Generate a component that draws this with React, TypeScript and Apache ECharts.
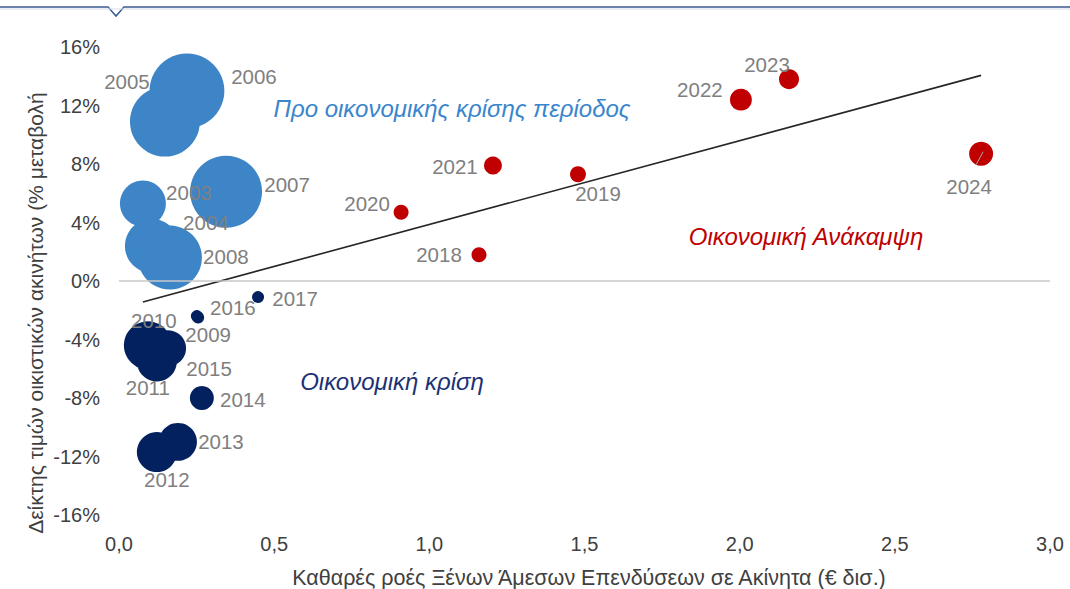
import React, { useEffect, useRef } from "react";
import * as echarts from "echarts";

// ---- Data ----
const preYears = ["2003", "2004", "2005", "2006", "2007", "2008"];
const preX = [0.077, 0.106, 0.148, 0.219, 0.345, 0.164];
const preY = [5.3, 2.4, 10.9, 13.0, 6.1, 1.6];
const preSize = [132, 182, 306, 350, 324, 256];

const crisisYears = ["2009", "2010", "2011", "2012", "2013", "2014", "2015", "2016", "2017"];
const crisisX = [0.255, 0.093, 0.122, 0.122, 0.19, 0.267, 0.158, 0.251, 0.448];
const crisisY = [-2.5, -4.4, -5.5, -11.7, -11.0, -8.0, -4.6, -2.4, -1.1];
const crisisSize = [9, 144, 100, 100, 90, 36, 81, 9, 9];

const recYears = ["2018", "2019", "2020", "2021", "2022", "2023", "2024"];
const recX = [1.16, 1.479, 0.909, 1.205, 2.004, 2.159, 2.778];
const recY = [1.8, 7.3, 4.7, 7.9, 12.4, 13.8, 8.7];
const recSize = [14, 16, 14, 20, 30, 25, 36];

const trendX = [0.077, 2.778];
const trendY = [-1.43, 14.06];

const xTicks = { min: 0, max: 3, interval: 0.5 };
const yTicks = { min: -16, max: 16, interval: 4 };

// ---- Layout of labels (pixel offsets from bubble centre) ----
const labelOffsets: Record<string, [number, number]> = {
  "2003": [46, -11],
  "2004": [54, -23],
  "2005": [-38, -40],
  "2006": [67, -14],
  "2007": [61, -7],
  "2008": [56, -1],
  "2009": [10, 17],
  "2010": [6, -25],
  "2011": [-9, 26],
  "2012": [10, 27],
  "2013": [43, 0],
  "2014": [41, 1],
  "2015": [41, 20],
  "2016": [36, -9],
  "2017": [37, 1],
  "2018": [-40, 0],
  "2019": [20, 19],
  "2020": [-34, -9],
  "2021": [-38, 1],
  "2022": [-41, -10],
  "2023": [-22, -15],
  "2024": [-12, 33],
};

const FONT = "'Liberation Sans', Arial, sans-serif";

function build(years: string[], xs: number[], ys: number[], sizes: number[]) {
  return years.map((y, i) => ({
    name: y,
    value: [xs[i], ys[i], sizes[i]],
    label: { offset: labelOffsets[y] || [0, 0] },
  }));
}

function bubbleSeries(name: string, color: string, data: any[]) {
  return {
    name,
    type: "scatter",
    z: 2,
    data,
    symbolSize: (v: number[]) => Math.sqrt(v[2]) * 4,
    itemStyle: { color, opacity: 1 },
    label: {
      show: true,
      position: "inside",
      formatter: (p: any) => p.name,
      color: "#7f7f7f",
      fontSize: 20.5,
      fontFamily: FONT,
    },
    emphasis: { disabled: true },
  };
}

export default function App() {
  const ref = useRef<HTMLDivElement>(null);

  useEffect(() => {
    document.body.style.margin = "0";
    if (!ref.current) return;
    const chart = echarts.init(ref.current, undefined, { renderer: "svg" });
    const option: any = {
      animation: false,
      backgroundColor: "#ffffff",
      grid: { left: 119, right: 20, top: 47, bottom: 74 },
      xAxis: {
        type: "value",
        ...xTicks,
        axisLine: { show: false },
        axisTick: { show: false },
        splitLine: { show: false },
        axisLabel: {
          formatter: (v: number) => v.toFixed(1).replace(".", ","),
          color: "#404040",
          fontSize: 20,
          fontFamily: FONT,
          margin: 19,
        },
      },
      yAxis: {
        type: "value",
        ...yTicks,
        axisLine: { show: false },
        axisTick: { show: false },
        splitLine: { show: false },
        axisLabel: {
          formatter: "{value}%",
          color: "#404040",
          fontSize: 20,
          fontFamily: FONT,
          margin: 19,
        },
      },
      series: [
        {
          type: "line",
          z: 1,
          data: [],
          silent: true,
          markLine: {
            silent: true,
            symbol: "none",
            label: { show: false },
            lineStyle: { color: "#c8c8c8", width: 1.5, type: "solid" },
            data: [{ yAxis: 0 }],
          },
        },
        bubbleSeries("pre", "#3d85c6", build(preYears, preX, preY, preSize)),
        bubbleSeries("crisis", "#03215e", build(crisisYears, crisisX, crisisY, crisisSize)),
        bubbleSeries("rec", "#c00000", build(recYears, recX, recY, recSize)),
        {
          type: "line",
          z: 3,
          data: trendX.map((x, i) => [x, trendY[i]]),
          symbol: "none",
          lineStyle: { color: "#262626", width: 1.6 },
          silent: true,
        },
      ],
      graphic: [
        {
          type: "polyline",
          shape: { points: [[0, 7], [108, 7], [116, 16], [124, 7], [1070, 7]] },
          style: { stroke: "#3b5b8f", lineWidth: 1.5, fill: null },
        },
        {
          type: "line",
          shape: { x1: 0, y1: 9, x2: 1070, y2: 9 },
          style: { stroke: "#d5dce8", lineWidth: 1 },
        },
        {
          type: "text",
          x: 452,
          y: 108,
          style: {
            text: "Προ οικονομικής κρίσης περίοδος",
            fill: "#3a86cc",
            font: `italic 24px ${FONT}`,
            align: "center",
            verticalAlign: "middle",
          },
        },
        {
          type: "text",
          x: 806,
          y: 236,
          style: {
            text: "Οικονομική Ανάκαμψη",
            fill: "#c00000",
            font: `italic 24px ${FONT}`,
            align: "center",
            verticalAlign: "middle",
          },
        },
        {
          type: "text",
          x: 392,
          y: 381,
          style: {
            text: "Οικονομική κρίση",
            fill: "#1c3275",
            font: `italic 24px ${FONT}`,
            align: "center",
            verticalAlign: "middle",
          },
        },
        {
          type: "text",
          x: 589,
          y: 578,
          style: {
            text: "Καθαρές ροές Ξένων Άμεσων Επενδύσεων σε Ακίνητα (€ δισ.)",
            fill: "#404040",
            font: `21.5px ${FONT}`,
            align: "center",
            verticalAlign: "middle",
          },
        },
        {
          type: "text",
          x: 35,
          y: 313,
          rotation: Math.PI / 2,
          style: {
            text: "Δείκτης τιμών οικιστικών ακινήτων (% μεταβολή",
            fill: "#404040",
            font: `21px ${FONT}`,
            align: "center",
            verticalAlign: "middle",
          },
        },
      ],
    };
    chart.setOption(option);

    // leader line for 2024 label
    const i24 = recYears.indexOf("2024");
    const p = chart.convertToPixel({ seriesIndex: 3 }, [recX[i24], recY[i24]]) as number[];
    if (p) {
      chart.setOption({
        graphic: [
          ...option.graphic,
          {
            type: "line",
            shape: { x1: p[0] - 5, y1: p[1] + 11, x2: p[0] + 2, y2: p[1] - 2 },
            style: { stroke: "#a6a6a6", lineWidth: 1 },
            z: 10,
          },
        ],
      });
    }
    return () => chart.dispose();
  }, []);

  return <div ref={ref} style={{ width: 1070, height: 589 }} />;
}
